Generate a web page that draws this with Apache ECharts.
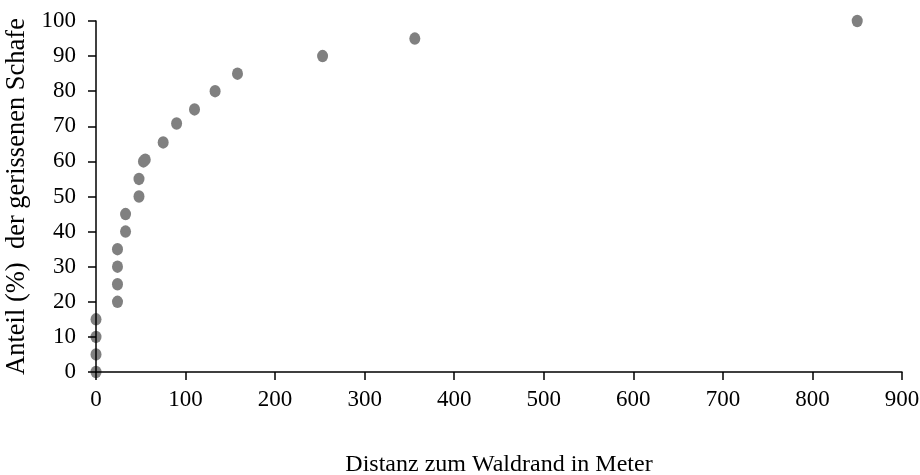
<!DOCTYPE html>
<html>
<head>
<meta charset="utf-8">
<script src="https://cdn.jsdelivr.net/npm/echarts@6/dist/echarts.min.js"></script>
<style>
  html, body { margin: 0; padding: 0; background: #fff; }
  #chart { width: 920px; height: 475px; }
</style>
</head>
<body>
<div id="chart"></div>
<script>
// Distance of each killed sheep from the forest edge (m) and cumulative share (%)
const distanceM = [0, 0, 0, 0, 24, 24, 24, 24, 33, 33, 48, 48, 53, 55, 75, 90, 110, 133, 158, 253, 356, 850];
const shareKilled = [0, 5, 10, 15, 20, 25, 30, 35, 40, 45, 50, 55, 60, 60.5, 65.4, 70.8, 74.8, 80, 85, 90, 95, 100];

const xTicks = [0, 100, 200, 300, 400, 500, 600, 700, 800, 900];
const yTicks = [0, 10, 20, 30, 40, 50, 60, 70, 80, 90, 100];

const xTitle = 'Distanz zum Waldrand in Meter';
const yTitle = 'Anteil (%)  der gerissenen Schafe';

const points = distanceM.map((d, i) => [d, shareKilled[i]]);

const serif = '"Liberation Serif", "Times New Roman", serif';

const chart = echarts.init(document.getElementById('chart'), null, { renderer: 'canvas' });
chart.setOption({
  backgroundColor: '#ffffff',
  animation: false,
  grid: { left: 96, right: 18, top: 21, bottom: 103, containLabel: false, outerBoundsMode: 'none' },
  xAxis: {
    type: 'value',
    min: xTicks[0],
    max: xTicks[xTicks.length - 1],
    interval: xTicks[1] - xTicks[0],
    z: 10,
    splitLine: { show: false },
    axisLine: { show: true, onZero: false, lineStyle: { color: '#000', width: 1.5 } },
    axisTick: { show: true, inside: false, length: 8, lineStyle: { color: '#000', width: 1.5 } },
    axisLabel: { color: '#000', fontFamily: serif, fontSize: 23, margin: 16 },
    name: xTitle,
    nameLocation: 'middle',
    nameGap: 81,
    nameTextStyle: { color: '#000', fontFamily: serif, fontSize: 24 }
  },
  yAxis: {
    type: 'value',
    min: yTicks[0],
    max: yTicks[yTicks.length - 1],
    interval: yTicks[1] - yTicks[0],
    z: 10,
    splitLine: { show: false },
    axisLine: { show: true, onZero: false, lineStyle: { color: '#000', width: 1.5 } },
    axisTick: { show: true, inside: false, length: 8, lineStyle: { color: '#000', width: 1.5 } },
    axisLabel: { color: '#000', fontFamily: serif, fontSize: 23, margin: 20 },
    name: yTitle,
    nameLocation: 'middle',
    nameGap: 62,
    nameTextStyle: { color: '#000', fontFamily: serif, fontSize: 26.5 }
  },
  series: [{
    type: 'scatter',
    data: points,
    symbol: 'circle',
    symbolSize: [11, 12.5],
    itemStyle: { color: '#808080', opacity: 1 },
    z: 2
  }]
});
</script>
</body>
</html>
